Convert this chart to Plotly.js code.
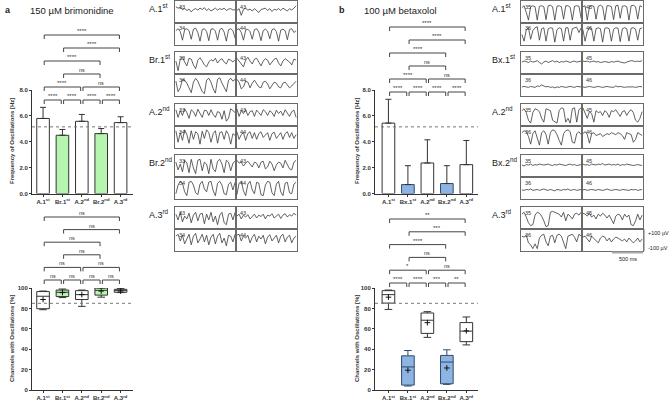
<!DOCTYPE html>
<html><head><meta charset="utf-8">
<script src="https://cdn.plot.ly/plotly-3.0.1.min.js"></script>
<style>html,body{margin:0;padding:0;background:#fff}#chart{width:669px;height:401px}</style>
</head><body><div id="chart"></div>
<script>
// ---------------- DATA ----------------
const catsA = ["A.1<sup>st</sup>","Br.1<sup>st</sup>","A.2<sup>nd</sup>","Br.2<sup>nd</sup>","A.3<sup>rd</sup>"];
const catsB = ["A.1<sup>st</sup>","Bx.1<sup>st</sup>","A.2<sup>nd</sup>","Bx.2<sup>nd</sup>","A.3<sup>rd</sup>"];
const freqTicks = [0, 2, 4, 6, 8];
const chTicks = [0, 20, 40, 60, 80, 100];
// frequency (Hz): mean and SD
const freqMeanA = [5.80, 4.50, 5.58, 4.63, 5.48];
const freqSdA   = [0.86, 0.45, 0.53, 0.39, 0.45];
const freqMeanB = [5.44, 0.69, 2.36, 0.77, 2.23];
const freqSdB   = [1.84, 1.46, 1.79, 1.38, 1.87];
const freqRef = 5.15;
// channels with oscillations (%): box statistics
const chMinA  = [78.7, 90.6, 82.0, 91.0, 95.5];
const chQ1A   = [79.7, 91.6, 88.7, 93.0, 95.8];
const chMedA  = [91.9, 95.8, 93.5, 97.7, 97.4];
const chQ3A   = [96.5, 98.0, 97.4, 100.0, 98.7];
const chMaxA  = [97.0, 99.0, 98.0, 100.0, 99.4];
const chMeanA = [88.7, 95.5, 93.5, 97.0, 97.0];
const chMinB  = [79.0, 3.9, 51.6, 5.5, 44.2];
const chQ1B   = [85.2, 4.8, 55.5, 6.1, 47.4];
const chMedB  = [93.5, 22.6, 68.4, 27.4, 57.7];
const chQ3B   = [97.4, 33.5, 75.5, 33.9, 66.1];
const chMaxB  = [98.0, 38.7, 76.8, 39.4, 71.6];
const chMeanB = [91.0, 19.4, 66.0, 21.6, 58.0];
const chRef = 85;
// significance comparisons: [from, to, label, level]
const sigFreqA = [[0,1,"****",1],[1,2,"****",1],[2,3,"****",1],[3,4,"****",1],[0,2,"****",2],[2,4,"ns",2],[1,3,"ns",3],[0,3,"****",4],[1,4,"****",5],[0,4,"****",6]];
const sigChA   = [[0,1,"ns",1],[1,2,"ns",1],[2,3,"ns",1],[3,4,"ns",1],[0,2,"ns",2],[2,4,"ns",2],[1,3,"ns",3],[0,3,"ns",4],[1,4,"ns",5],[0,4,"ns",6]];
const sigFreqB = [[0,1,"****",1],[1,2,"****",1],[2,3,"****",1],[3,4,"****",1],[0,2,"****",2],[2,4,"ns",2],[1,3,"ns",3],[0,3,"****",4],[1,4,"****",5],[0,4,"****",6]];
const sigChB   = [[0,1,"****",1],[1,2,"****",1],[2,3,"***",1],[3,4,"**",1],[0,2,"*",2],[2,4,"ns",2],[1,3,"ns",3],[0,3,"****",4],[1,4,"***",5],[0,4,"**",6]];

// example recordings (µV)
const rowLabelsA = ["A.1<sup>st</sup>","Br.1<sup>st</sup>","A.2<sup>nd</sup>","Br.2<sup>nd</sup>","A.3<sup>rd</sup>"];
const rowLabelsB = ["A.1<sup>st</sup>","Bx.1<sup>st</sup>","A.2<sup>nd</sup>","Bx.2<sup>nd</sup>","A.3<sup>rd</sup>"];
const chanA = ["33","43","34","44"];
const chanB = ["35","45","36","46"];
const a_A1_33=[50,35,45,20,30,10,25,-5,20,30,15,35,20,40,10,30,5,25,35,15,30,20,35,10,25,30,15,20];
const a_A1_43=[10,30,-40,20,35,15,25,5,30,10,-10,20,25,35,10,30,0,25,15,30,10,35,20,5,30,15,35,60];
const a_A1_34=[30,50,20,-70,40,50,30,-60,45,55,10,-80,40,50,20,-75,45,50,25,-70,40,55,15,-80,40,50,30,-50];
const a_A1_44=[40,50,10,-70,35,45,20,-60,40,50,15,-75,30,45,25,-55,40,50,20,-80,35,45,30,-65,40,50,10,30];
const a_Br1_33=[20,-80,40,60,10,-30,50,40,-20,-60,30,55,20,-20,-40,10,35,20,50,0,30,45,10,-10,40,30,10,35];
const a_Br1_43=[50,20,-20,-40,30,60,20,-10,40,50,10,-30,20,45,30,-20,10,40,50,0,-30,20,45,30,10,-20,40,30];
const a_Br1_34=[40,-70,-30,60,50,20,-30,-80,30,70,40,-20,-70,-90,50,70,30,-40,-85,60,75,20,-30,-70,50,70,40,60];
const a_Br1_44=[60,30,-40,-20,40,30,-30,20,50,10,-20,-30,30,40,10,-40,0,30,20,-20,-30,20,30,0,-30,-10,20,40];
const a_A2_33=[50,-30,40,-10,60,20,-40,50,30,-20,55,10,-30,45,40,-10,50,0,-30,30,20,-50,40,-70,-40,60,40,20];
const a_A2_43=[60,-20,40,10,50,-10,30,40,-20,45,20,-10,50,30,-10,40,20,-20,45,10,35,-10,50,20,-20,30,45,-30];
const a_A2_34=[60,-60,40,-40,70,20,-70,60,-30,50,30,-80,55,-20,70,40,-60,30,60,-70,40,50,-30,60,20,-80,30,10];
const a_A2_44=[50,-30,20,40,-40,30,50,-20,40,-30,30,50,-10,20,40,-40,30,45,-20,10,40,-30,30,50,-10,40,-20,20];
const a_Br2_33=[40,-40,20,-60,60,30,-70,70,-20,-80,60,70,-50,40,20,-80,70,-30,-60,50,70,20,-70,60,40,-50,30,50];
const a_Br2_43=[60,30,40,0,30,50,20,-10,40,30,-20,40,50,-30,-10,50,20,-50,10,40,30,-20,60,20,-30,-40,40,60];
const a_Br2_34=[-60,30,70,50,-40,-80,60,70,30,-50,-70,40,70,-10,-40,60,70,-30,-80,50,70,30,-60,-70,40,60,-20,60];
const a_Br2_44=[-70,50,70,-30,-80,40,70,-20,-60,60,50,-70,-80,30,70,60,-50,-80,40,70,-40,-80,50,60,-50,-60,40,60];
const a_A3_33=[40,-20,60,-40,20,-10,50,-50,30,60,-30,40,50,-60,40,-20,60,-40,20,-70,30,60,-50,-70,40,50,-20,60];
const a_A3_43=[20,40,-10,30,10,35,-10,20,40,0,30,15,40,-10,30,20,45,0,25,40,-5,30,45,10,35,20,50,30];
const a_A3_34=[40,60,-10,50,-40,20,60,-50,40,70,-30,10,60,-20,50,-50,30,60,-40,40,70,-30,20,-60,50,40,-20,60];
const a_A3_44=[50,60,-10,40,20,50,-30,30,60,-20,40,10,50,-40,30,55,-10,20,50,-30,40,60,-20,30,50,-30,20,40];
const b_A1_35=[40,60,-10,-90,50,60,50,-90,55,60,50,-85,60,65,50,-90,55,60,50,-80,60,60,45,-90,55,60,55,-70];
const b_A1_45=[50,60,-90,50,60,55,-80,55,65,50,-90,60,60,50,-85,60,65,-70,55,60,50,-90,60,65,50,-80,60,50];
const b_A1_36=[-10,-80,40,60,-60,30,60,70,-70,50,60,-80,50,60,55,-90,40,60,50,-80,60,60,-70,50,60,65,10,60];
const b_A1_46=[40,-80,20,60,50,-80,50,60,50,-90,55,60,50,-80,45,60,55,-85,50,60,50,-80,55,60,45,-70,50,60];
const b_Bx1_35=[10,20,15,5,20,10,15,25,5,-10,10,20,5,15,25,10,20,5,15,10,20,15,5,15,20,10,15,20];
const b_Bx1_45=[20,15,20,10,15,20,10,15,5,10,15,10,5,15,10,15,20,10,5,0,10,15,25,20,15,20,15,25];
const b_Bx1_36=[-20,-15,-20,-25,-15,-20,-25,-10,-15,0,-10,-20,-15,-25,-20,-30,-20,-25,-15,-20,-25,-20,-15,-20,-25,-15,-20,-20];
const b_Bx1_46=[-20,-25,-20,-15,-20,-25,-20,-15,-20,-25,-20,-15,-20,-20,-25,-10,-20,-15,-20,-25,-20,-20,-15,-20,-25,-20,-15,-20];
const b_A2_35=[40,60,20,-60,-90,20,60,50,30,-40,-80,60,50,40,-60,-80,-90,40,70,60,-80,-40,-90,60,70,-80,50,70];
const b_A2_45=[70,20,-40,30,10,-80,40,20,30,-10,40,20,-30,40,30,50,20,-20,30,40,-10,30,50,20,-60,-80,-40,30];
const b_A2_36=[40,60,50,0,-80,30,60,-20,-90,40,60,20,-80,40,70,60,20,-40,-90,30,60,70,50,-60,-70,30,50,20];
const b_A2_46=[30,50,20,-70,30,40,10,20,30,0,20,30,20,40,30,20,40,30,10,-30,40,30,20,-60,-30,40,20,10];
const b_Bx2_35=[10,0,15,10,20,5,15,10,20,15,10,15,20,10,5,15,10,20,15,10,5,15,20,10,15,5,10,15];
const b_Bx2_45=[20,10,15,5,20,15,10,20,15,25,10,15,20,10,15,10,20,5,15,10,20,15,10,5,10,15,10,5];
const b_Bx2_36=[-20,-25,-15,-20,-10,-25,-20,-15,-25,-20,-10,-20,-25,-15,-20,-30,-15,-20,-25,-15,-20,-10,-25,-20,-15,-25,-20,-15];
const b_Bx2_46=[-20,-15,-25,-20,-15,-20,-25,-15,-20,-25,-20,-10,-20,-25,-20,-15,-20,-25,-15,-20,-20,-25,-15,-20,-15,-25,-20,-15];
const b_A3_35=[40,60,10,-50,-80,-70,30,60,50,20,-30,-90,-80,60,70,60,50,40,10,60,-30,40,20,-10,40,50,30,60];
const b_A3_45=[50,40,20,50,10,30,-10,40,20,50,30,0,30,-20,-60,20,40,30,-20,40,10,30,-70,-80,-30,40,-20,30];
const b_A3_36=[40,30,50,-30,-50,-90,-40,-90,20,50,60,-20,-60,40,50,-30,50,60,40,-20,-90,40,50,60,30,-20,60,40];
const b_A3_46=[30,40,10,-20,40,20,0,-30,20,40,30,-10,20,-20,10,30,20,0,-10,10,-20,20,-10,-30,-10,20,-20,10];
const recA = [[a_A1_33,a_A1_43,a_A1_34,a_A1_44],[a_Br1_33,a_Br1_43,a_Br1_34,a_Br1_44],[a_A2_33,a_A2_43,a_A2_34,a_A2_44],[a_Br2_33,a_Br2_43,a_Br2_34,a_Br2_44],[a_A3_33,a_A3_43,a_A3_34,a_A3_44]];
const recB = [[b_A1_35,b_A1_45,b_A1_36,b_A1_46],[b_Bx1_35,b_Bx1_45,b_Bx1_36,b_Bx1_46],[b_A2_35,b_A2_45,b_A2_36,b_A2_46],[b_Bx2_35,b_Bx2_45,b_Bx2_36,b_Bx2_46],[b_A3_35,b_A3_45,b_A3_36,b_A3_46]];

// ---------------- LAYOUT HELPERS ----------------
const W=669,H=401;
const FONT='Liberation Sans, Arial, sans-serif';
const px=x=>x/W, py=y=>1-y/H;
const dX=(a,b)=>[a/W,b/W], dY=(t,b)=>[1-b/H,1-t/H];
const DARK='#333';
const GREEN='#b5f5b0', BLUE='#8db4e2', BLUE_LINE='#2f4a6e';

const data=[]; const shapes=[]; const ann=[];
const layout={width:W,height:H,margin:{l:0,r:0,t:0,b:0},paper_bgcolor:'#fff',plot_bgcolor:'rgba(0,0,0,0)',showlegend:false,font:{family:FONT,color:DARK}};

function mainAxes(n, xd, yd, xr, yr, ticktext, yticks, fmt){
  const xs=n===1?'':n, xk='xaxis'+xs, yk='yaxis'+xs;
  const tf={size:6,family:FONT,color:DARK,weight:'bold'};
  layout[xk]={domain:xd,range:xr,anchor:'y'+xs,tickmode:'array',tickvals:[0,1,2,3,4],ticktext:ticktext,showline:true,linecolor:DARK,linewidth:1,ticks:'outside',ticklen:2,tickwidth:1,tickcolor:DARK,showgrid:false,zeroline:false,tickfont:tf};
  layout[yk]={domain:yd,range:yr,anchor:'x'+xs,tickmode:'array',tickvals:yticks,ticktext:yticks.map(fmt),showline:true,linecolor:DARK,linewidth:1,ticks:'outside',ticklen:2,tickwidth:1,tickcolor:DARK,showgrid:false,zeroline:false,tickfont:tf};
}

function brackets(list, xs, yPx, pitch){
  const xref='x'+(xs===1?'':xs);
  list.forEach(([i,j,lab,lev])=>{
    const yl=yPx-(lev-1)*pitch;
    const a=i+0.06, b=j-0.06;
    shapes.push({type:'path',xref:xref,yref:'paper',path:`M ${a} ${py(yl+4)} L ${a} ${py(yl)} L ${b} ${py(yl)} L ${b} ${py(yl+4)}`,line:{color:'#444',width:1}});
    ann.push({xref:xref,yref:'paper',x:(i+j)/2,y:py(yl-4),text:lab,showarrow:false,font:{size:lab==='ns'?5.5:6,family:FONT,color:'#333'},yanchor:'middle',xanchor:'center'});
  });
}

// ---------------- PANEL a ----------------
const idx=[0,1,2,3,4];
const f1=v=>v.toFixed(1), f0=v=>String(v);
mainAxes(1, dX(32,133), dY(90,193.5), [-0.57,4.64], [0,8], catsA, freqTicks, f1);
mainAxes(2, dX(32,133), dY(288,390), [-0.57,4.64], [0,100], catsA, chTicks, f0);
data.push({type:'bar',x:idx,y:freqMeanA,xaxis:'x',yaxis:'y',width:0.65,
  marker:{color:[ '#fff',GREEN,'#fff',GREEN,'#fff'],line:{color:DARK,width:1}},
  error_y:{type:'data',symmetric:false,array:freqSdA,arrayminus:freqSdA.map(()=>0),color:DARK,thickness:1,width:3}});
idx.forEach(i=>{
  data.push({type:'box',x:[i],q1:[chQ1A[i]],median:[chMedA[i]],q3:[chQ3A[i]],lowerfence:[chMinA[i]],upperfence:[chMaxA[i]],
    xaxis:'x2',yaxis:'y2',width:0.65,whiskerwidth:0.6,boxpoints:false,fillcolor:i%2?GREEN:'#fff',line:{color:DARK,width:1}});
});
data.push({type:'scatter',mode:'markers',x:idx,y:chMeanA,xaxis:'x2',yaxis:'y2',marker:{symbol:'cross-thin',size:4,line:{color:'#111',width:1}}});
shapes.push({type:'line',xref:'x domain',yref:'y',x0:0,x1:1,y0:freqRef,y1:freqRef,line:{color:'#777',width:1,dash:'dot'}});
shapes.push({type:'line',xref:'x2 domain',yref:'y2',x0:0,x1:1,y0:chRef,y1:chRef,line:{color:'#777',width:1,dash:'dot'}});
brackets(sigFreqA,1,100,13);
brackets(sigChA,2,280,12.6);

// ---------------- PANEL b ----------------
mainAxes(3, dX(375,478), dY(90,193.5), [-0.69,4.6], [0,8], catsB, freqTicks, f1);
mainAxes(4, dX(375,478), dY(288,390), [-0.69,4.6], [0,100], catsB, chTicks, f0);
data.push({type:'bar',x:idx,y:freqMeanB,xaxis:'x3',yaxis:'y3',width:0.65,
  marker:{color:['#fff',BLUE,'#fff',BLUE,'#fff'],line:{color:[DARK,BLUE_LINE,DARK,BLUE_LINE,DARK],width:1}},
  error_y:{type:'data',symmetric:false,array:freqSdB,arrayminus:freqSdB.map(()=>0),color:DARK,thickness:1,width:3}});
idx.forEach(i=>{
  data.push({type:'box',x:[i],q1:[chQ1B[i]],median:[chMedB[i]],q3:[chQ3B[i]],lowerfence:[chMinB[i]],upperfence:[chMaxB[i]],
    xaxis:'x4',yaxis:'y4',width:0.65,whiskerwidth:0.6,boxpoints:false,fillcolor:i%2?BLUE:'#fff',line:{color:i%2?BLUE_LINE:DARK,width:1}});
});
data.push({type:'scatter',mode:'markers',x:idx,y:chMeanB,xaxis:'x4',yaxis:'y4',marker:{symbol:'cross-thin',size:4,line:{color:'#111',width:1}}});
shapes.push({type:'line',xref:'x3 domain',yref:'y3',x0:0,x1:1,y0:freqRef,y1:freqRef,line:{color:'#777',width:1,dash:'dot'}});
shapes.push({type:'line',xref:'x4 domain',yref:'y4',x0:0,x1:1,y0:chRef,y1:chRef,line:{color:'#777',width:1,dash:'dot'}});
brackets(sigFreqB,3,92,13);
brackets(sigChB,4,283,12.8);

// axis titles
function vtitle(x,yc,t){ann.push({xref:'paper',yref:'paper',x:px(x),y:py(yc),text:t,textangle:-90,showarrow:false,font:{size:6,family:FONT,color:DARK,weight:'bold'},xanchor:'center',yanchor:'middle'});}
vtitle(12,141,'Frequency of Oscillations [Hz]');
vtitle(12,339,'Channels with Oscillations [%]');
vtitle(357,141,'Frequency of Oscillations [Hz]');
vtitle(357,339,'Channels with Oscillations [%]');

// panel headers
function txt(x,y,t,size,opts){ann.push(Object.assign({xref:'paper',yref:'paper',x:px(x),y:py(y),text:t,showarrow:false,xanchor:'left',yanchor:'middle',font:{size:size,family:FONT,color:'#222'}},opts||{}));}
txt(3,10,'<b>a</b>',9);
txt(28,10,'150 µM brimonidine',9.5);
txt(337,10,'<b>b</b>',9);
txt(362,10,'100 µM betaxolol',9.5);

// ---------------- RECORDINGS ----------------
const rowTops=[0.5,52,103.5,155,207];
const cellW=61, cellH=22;
let ax=5;
function recPanel(left, labelX, labels, chans, rec){
  rec.forEach((cells,r)=>{
    txt(labelX, rowTops[r]+7, labels[r], 9);
    cells.forEach((vals,k)=>{
      const col=k%2, sub=Math.floor(k/2);
      const x0=left+col*cellW, y0=rowTops[r]+sub*cellH;
      const xk='xaxis'+ax, yk='yaxis'+ax;
      layout[xk]={domain:dX(x0,x0+cellW),range:[-0.4,vals.length-0.6],anchor:'y'+ax,showline:true,mirror:true,linecolor:'#6a6a6a',linewidth:1,showticklabels:false,ticks:'',showgrid:false,zeroline:false};
      layout[yk]={domain:dY(y0,y0+cellH),range:[-115,115],anchor:'x'+ax,showline:true,mirror:true,linecolor:'#6a6a6a',linewidth:1,showticklabels:false,ticks:'',showgrid:false,zeroline:false};
      data.push({type:'scatter',mode:'lines',x:vals.map((v,i)=>i),y:vals,xaxis:'x'+ax,yaxis:'y'+ax,line:{color:'#3a3a3a',width:0.8}});
      ann.push({xref:'paper',yref:'paper',x:px(x0+1.5),y:py(y0+1),text:chans[k],showarrow:false,xanchor:'left',yanchor:'top',font:{size:5.5,family:FONT,color:'#333'}});
      ax++;
    });
  });
}
recPanel(175,147,rowLabelsA,chanA,recA);
recPanel(521,490,rowLabelsB,chanB,recB);

// scale bar
shapes.push({type:'line',xref:'paper',yref:'paper',x0:px(644),x1:px(644),y0:py(229),y1:py(251),line:{color:'#888',width:1.2}});
shapes.push({type:'line',xref:'paper',yref:'paper',x0:px(612),x1:px(643),y0:py(252.5),y1:py(252.5),line:{color:'#aaa',width:2}});
txt(646,233,'+100 µV',5.5);
txt(646,248,'-100 µV',5.5);
txt(628,259,'500 ms',5.5,{xanchor:'center'});

layout.shapes=shapes; layout.annotations=ann;
Plotly.newPlot('chart',data,layout,{staticPlot:true,displayModeBar:false});
</script></body></html>
